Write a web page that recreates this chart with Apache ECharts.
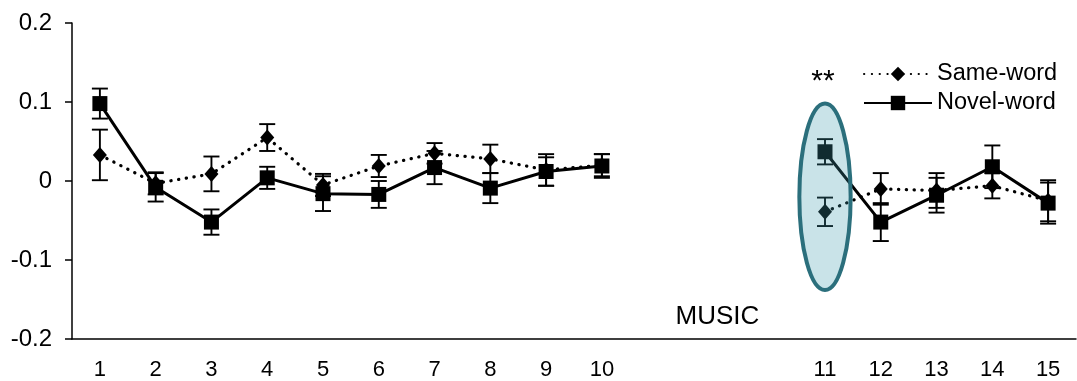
<!DOCTYPE html>
<html>
<head>
<meta charset="utf-8">
<script src="https://cdn.jsdelivr.net/npm/echarts@6/dist/echarts.min.js"></script>
<style>
html,body{margin:0;padding:0;background:#fff;}
#c{width:1077px;height:381px;}
</style>
</head>
<body>
<div id="c"></div>
<script>
// Sessions as shown on the x axis (three blank slots form the gap before session 11)
var xLabels = ['1','2','3','4','5','6','7','8','9','10',' ','  ','   ','11','12','13','14','15'];
var sessionSlots = [0,1,2,3,4,5,6,7,8,9,13,14,15,16,17];
var yTicks = ['-0.2','-0.1','0','0.1','0.2'];

var sameWord    = [0.033,-0.003,0.009,0.055,-0.005,0.019,0.035,0.028,0.014,0.020,-0.039,-0.010,-0.012,-0.006,-0.025];
var sameWordErr = [0.032,0.014,0.022,0.017,0.014,0.014,0.013,0.018,0.020,0.014,0.018,0.020,0.022,0.016,0.026];
var novelWord    = [0.098,-0.008,-0.052,0.004,-0.016,-0.017,0.017,-0.009,0.012,0.019,0.037,-0.052,-0.018,0.018,-0.028];
var novelWordErr = [0.019,0.018,0.016,0.014,0.022,0.017,0.021,0.019,0.018,0.015,0.016,0.024,0.022,0.027,0.026];

var highlightIndex = 10;     // session 11
var highlightCenter = -0.020;
var highlightHalfSpan = 0.118;
var musicSlot = 11;
var musicValue = -0.172;

function toSlots(vals){
  var arr = xLabels.map(function(){return null;});
  vals.forEach(function(v,i){ arr[sessionSlots[i]] = v; });
  return arr;
}
function errData(vals, errs){
  return vals.map(function(v,i){ return [sessionSlots[i], v-errs[i], v+errs[i]]; });
}
function errRender(params, api){
  var x = api.value(0);
  var lo = api.coord([x, api.value(1)]);
  var hi = api.coord([x, api.value(2)]);
  var w = 8;
  var st = {stroke:'#000', lineWidth:1.9};
  return {type:'group', children:[
    {type:'line', shape:{x1:lo[0],y1:lo[1],x2:hi[0],y2:hi[1]}, style:st},
    {type:'line', shape:{x1:lo[0]-w,y1:lo[1],x2:lo[0]+w,y2:lo[1]}, style:st},
    {type:'line', shape:{x1:hi[0]-w,y1:hi[1],x2:hi[0]+w,y2:hi[1]}, style:st}
  ]};
}
var FONT = '"Liberation Sans", Arial, sans-serif';
var chart = echarts.init(document.getElementById('c'), null, {renderer:'canvas'});
var option = {
  animation:false,
  backgroundColor:'#fff',
  grid:{left:72, right:1, top:23, bottom:41, containLabel:false},
  legend:{
    orient:'vertical', left:858, top:57, itemWidth:68, itemHeight:18, itemGap:5,
    data:['Same-word','Novel-word'],
    textStyle:{fontFamily:FONT, fontSize:23.5, color:'#000'},
    selectedMode:false
  },
  xAxis:{
    type:'category', data:xLabels, boundaryGap:true,
    axisLine:{onZero:false, lineStyle:{color:'#000', width:1.5}},
    axisTick:{alignWithLabel:true, length:5, lineStyle:{color:'#000', width:1.5}},
    axisLabel:{color:'#000', fontFamily:FONT, fontSize:22, margin:20, interval:0},
    splitLine:{show:false}
  },
  yAxis:{
    type:'value', min:-0.2, max:0.2, interval:0.1,
    axisLine:{show:true, lineStyle:{color:'#000', width:1.5}},
    axisTick:{show:true, length:7, lineStyle:{color:'#000', width:1.5}},
    axisLabel:{color:'#000', fontFamily:FONT, fontSize:24, margin:20,
      formatter:function(v){ var i = Math.round((v+0.2)/0.1); return yTicks[i]; }},
    splitLine:{show:false}
  },
  series:[
    {type:'custom', name:'errSame', renderItem:errRender, data:errData(sameWord, sameWordErr), z:1, silent:true},
    {type:'custom', name:'errNovel', renderItem:errRender, data:errData(novelWord, novelWordErr), z:1, silent:true},
    {type:'line', name:'Same-word', data:toSlots(sameWord), connectNulls:false,
      symbol:'diamond', symbolSize:[14,16], z:3,
      itemStyle:{color:'#000'},
      lineStyle:{color:'#000', width:3.2, type:[0.3,7.5], cap:'round'}},
    {type:'line', name:'Novel-word', data:toSlots(novelWord), connectNulls:false,
      symbol:'rect', symbolSize:15, z:4,
      itemStyle:{color:'#000'},
      lineStyle:{color:'#000', width:3, type:'solid'}}
  ]
};
chart.setOption(option);

var slot = sessionSlots[highlightIndex];
var c = chart.convertToPixel({xAxisIndex:0, yAxisIndex:0}, [slot, highlightCenter]);
var t = chart.convertToPixel({xAxisIndex:0, yAxisIndex:0}, [slot, highlightCenter + highlightHalfSpan]);
var c2 = chart.convertToPixel({xAxisIndex:0, yAxisIndex:0}, [slot+1, highlightCenter]);
var catW = c2[0]-c[0];
var m = chart.convertToPixel({xAxisIndex:0, yAxisIndex:0}, [musicSlot, musicValue]);
var ry = c[1]-t[1];
chart.setOption({
  graphic:[
    {type:'ellipse', z:100, shape:{cx:c[0], cy:c[1], rx:catW*0.46, ry:ry},
      style:{fill:'rgba(62,155,172,0.28)', stroke:'#2b6f7c', lineWidth:4}},
    {type:'text', z:100, x:c[0]-2, y:t[1]-7,
      style:{text:'**', fontFamily:FONT, fontSize:30, fill:'#000', align:'center', verticalAlign:'bottom'}},
    {type:'text', z:100, x:m[0]+4, y:m[1],
      style:{text:'MUSIC', fontFamily:FONT, fontSize:26, fill:'#000', align:'center', verticalAlign:'middle'}}
  ]
});
</script>
</body>
</html>
